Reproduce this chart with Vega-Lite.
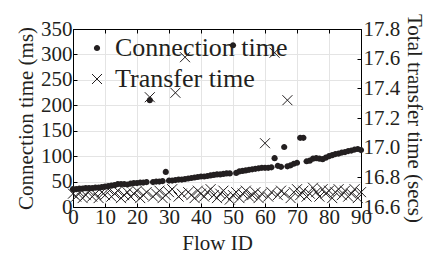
{
  "$schema": "https://vega.github.io/schema/vega-lite/v6.json",
  "width": 288,
  "height": 178,
  "autosize": "none",
  "padding": {"left": 73, "top": 29, "right": 68, "bottom": 47},
  "background": "white",
  "config": {
    "font": "Liberation Serif",
    "view": {"stroke": "black", "strokeWidth": 1},
    "axis": {
      "labelFont": "Liberation Serif",
      "titleFont": "Liberation Serif",
      "labelFontSize": 21,
      "titleFontSize": 21,
      "labelColor": "#231f20",
      "titleColor": "#231f20",
      "titleFontWeight": "normal",
      "domainColor": "black",
      "tickColor": "black",
      "tickSize": -4,
      "gridColor": "#e4e4e4",
      "gridWidth": 1,
      "labelFlush": false,
      "labelOverlap": false
    },
    "legend": {
      "labelFont": "Liberation Serif",
      "labelFontSize": 26,
      "labelColor": "#231f20",
      "symbolStrokeWidth": 1
    }
  },
  "data": {
    "values": [
      {"flow": 0, "conn": 35, "transfer": 16.69},
      {"flow": 1, "conn": 35, "transfer": 16.67},
      {"flow": 2, "conn": 36, "transfer": 16.70},
      {"flow": 3, "conn": 36, "transfer": 16.66},
      {"flow": 4, "conn": 37, "transfer": 16.68},
      {"flow": 5, "conn": 37, "transfer": 16.71},
      {"flow": 6, "conn": 37, "transfer": 16.67},
      {"flow": 7, "conn": 38, "transfer": 16.69},
      {"flow": 8, "conn": 38, "transfer": 16.66},
      {"flow": 9, "conn": 39, "transfer": 16.70},
      {"flow": 10, "conn": 40, "transfer": 16.68},
      {"flow": 11, "conn": 41, "transfer": 16.72},
      {"flow": 12, "conn": 42, "transfer": 16.67},
      {"flow": 13, "conn": 43, "transfer": 16.69},
      {"flow": 14, "conn": 45, "transfer": 16.71},
      {"flow": 15, "conn": 45, "transfer": 16.66},
      {"flow": 16, "conn": 45, "transfer": 16.68},
      {"flow": 17, "conn": 44, "transfer": 16.70},
      {"flow": 18, "conn": 46, "transfer": 16.67},
      {"flow": 19, "conn": 47, "transfer": 16.69},
      {"flow": 20, "conn": 47, "transfer": 16.71},
      {"flow": 21, "conn": 48, "transfer": 16.66},
      {"flow": 22, "conn": 48, "transfer": 16.68},
      {"flow": 23, "conn": 49, "transfer": 16.70},
      {"flow": 24, "conn": 210, "transfer": 17.34},
      {"flow": 25, "conn": 49, "transfer": 16.67},
      {"flow": 26, "conn": 50, "transfer": 16.69},
      {"flow": 27, "conn": 50, "transfer": 16.71},
      {"flow": 28, "conn": 51, "transfer": 16.66},
      {"flow": 29, "conn": 69, "transfer": 16.68},
      {"flow": 30, "conn": 52, "transfer": 16.70},
      {"flow": 31, "conn": 52, "transfer": 16.72},
      {"flow": 32, "conn": 53, "transfer": 17.37},
      {"flow": 33, "conn": 54, "transfer": 16.67},
      {"flow": 34, "conn": 54, "transfer": 16.69},
      {"flow": 35, "conn": 55, "transfer": 17.61},
      {"flow": 36, "conn": 56, "transfer": 16.70},
      {"flow": 37, "conn": 57, "transfer": 16.68},
      {"flow": 38, "conn": 58, "transfer": 16.66},
      {"flow": 39, "conn": 59, "transfer": 16.71},
      {"flow": 40, "conn": 60, "transfer": 16.69},
      {"flow": 41, "conn": 60, "transfer": 16.67},
      {"flow": 42, "conn": 61, "transfer": 16.70},
      {"flow": 43, "conn": 62, "transfer": 16.72},
      {"flow": 44, "conn": 63, "transfer": 16.68},
      {"flow": 45, "conn": 64, "transfer": 16.66},
      {"flow": 46, "conn": 64, "transfer": 16.69},
      {"flow": 47, "conn": 65, "transfer": 16.71},
      {"flow": 48, "conn": 66, "transfer": 16.67},
      {"flow": 49, "conn": 66, "transfer": 16.65},
      {"flow": 50, "conn": 318, "transfer": 16.68},
      {"flow": 51, "conn": 67, "transfer": 16.70},
      {"flow": 52, "conn": 70, "transfer": 16.66},
      {"flow": 53, "conn": 71, "transfer": 16.69},
      {"flow": 54, "conn": 72, "transfer": 16.71},
      {"flow": 55, "conn": 73, "transfer": 16.67},
      {"flow": 56, "conn": 74, "transfer": 16.68},
      {"flow": 57, "conn": 75, "transfer": 16.70},
      {"flow": 58, "conn": 76, "transfer": 16.66},
      {"flow": 59, "conn": 77, "transfer": 16.69},
      {"flow": 60, "conn": 77, "transfer": 17.03},
      {"flow": 61, "conn": 77, "transfer": 16.67},
      {"flow": 62, "conn": 78, "transfer": 16.70},
      {"flow": 63, "conn": 96, "transfer": 17.64},
      {"flow": 64, "conn": 81, "transfer": 16.68},
      {"flow": 65, "conn": 79, "transfer": 16.71},
      {"flow": 66, "conn": 118, "transfer": 16.69},
      {"flow": 67, "conn": 80, "transfer": 17.32},
      {"flow": 68, "conn": 82, "transfer": 16.66},
      {"flow": 69, "conn": 85, "transfer": 16.70},
      {"flow": 70, "conn": 87, "transfer": 16.72},
      {"flow": 71, "conn": 136, "transfer": 16.68},
      {"flow": 72, "conn": 136, "transfer": 16.71},
      {"flow": 73, "conn": 90, "transfer": 16.67},
      {"flow": 74, "conn": 91, "transfer": 16.69},
      {"flow": 75, "conn": 95, "transfer": 16.73},
      {"flow": 76, "conn": 96, "transfer": 16.70},
      {"flow": 77, "conn": 95, "transfer": 16.67},
      {"flow": 78, "conn": 94, "transfer": 16.72},
      {"flow": 79, "conn": 97, "transfer": 16.69},
      {"flow": 80, "conn": 100, "transfer": 16.71},
      {"flow": 81, "conn": 102, "transfer": 16.66},
      {"flow": 82, "conn": 104, "transfer": 16.70},
      {"flow": 83, "conn": 105, "transfer": 16.72},
      {"flow": 84, "conn": 107, "transfer": 16.68},
      {"flow": 85, "conn": 108, "transfer": 16.71},
      {"flow": 86, "conn": 110, "transfer": 16.67},
      {"flow": 87, "conn": 111, "transfer": 16.69},
      {"flow": 88, "conn": 113, "transfer": 16.72},
      {"flow": 89, "conn": 114, "transfer": 16.66},
      {"flow": 90, "conn": 112, "transfer": 16.70}
    ]
  },
  "layer": [
    {
      "mark": {"type": "point", "filled": true, "color": "#231f20", "size": 100, "opacity": 1},
      "encoding": {
        "x": {
          "field": "flow", "type": "quantitative",
          "scale": {"domain": [0, 90], "nice": false, "zero": false},
          "axis": {"title": "Flow ID", "values": [0, 10, 20, 30, 40, 50, 60, 70, 80, 90], "grid": true, "labelPadding": 3, "titlePadding": 5}
        },
        "y": {
          "field": "conn", "type": "quantitative",
          "scale": {"domain": [0, 350], "nice": false},
          "axis": {"title": "Connection time (ms)", "values": [0, 50, 100, 150, 200, 250, 300, 350], "grid": true, "labelPadding": 5, "titlePadding": 4}
        },
        "shape": {
          "datum": "Connection time", "type": "nominal",
          "scale": {
            "domain": ["Connection time"],
            "range": ["M0,-0.62A0.62,0.62,0,1,1,0,0.62A0.62,0.62,0,1,1,0,-0.62Z"]
          },
          "legend": {
            "title": null,
            "orient": "none",
            "legendX": 11,
            "legendY": 6,
            "padding": 0,
            "labelOffset": 5,
            "symbolSize": 100,
            "labelLimit": 400
          }
        }
      }
    },
    {
      "mark": {"type": "point", "filled": false, "color": "#231f20", "size": 100, "strokeWidth": 1, "opacity": 1},
      "encoding": {
        "x": {
          "field": "flow", "type": "quantitative",
          "axis": {"orient": "top", "labels": false, "title": null, "grid": false, "values": [0, 10, 20, 30, 40, 50, 60, 70, 80, 90]}
        },
        "y": {
          "field": "transfer", "type": "quantitative",
          "scale": {"domain": [16.6, 17.8], "nice": false, "zero": false},
          "axis": {"orient": "right", "title": "Total transfer time (secs)", "values": [16.6, 16.8, 17.0, 17.2, 17.4, 17.6, 17.8], "format": ".1f", "grid": false, "labelPadding": 6, "titlePadding": 4}
        },
        "shape": {
          "datum": "Transfer time", "type": "nominal",
          "scale": {"domain": ["Transfer time"], "range": ["M-1,-1L1,1M-1,1L1,-1"]},
          "legend": {
            "title": null,
            "orient": "none",
            "legendX": 11,
            "legendY": 37,
            "padding": 0,
            "labelOffset": 5,
            "symbolSize": 100,
            "labelLimit": 400
          }
        }
      }
    }
  ],
  "resolve": {"scale": {"y": "independent", "shape": "independent"}, "axis": {"x": "independent"}}
}
